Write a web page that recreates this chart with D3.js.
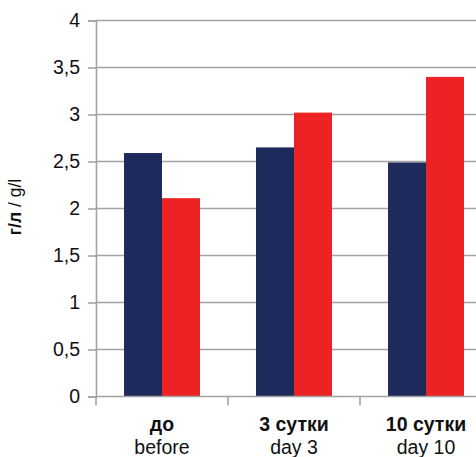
<!DOCTYPE html>
<html>
<head>
<meta charset="utf-8">
<script src="https://cdn.jsdelivr.net/npm/d3@7"></script>
<style>
  html, body { margin: 0; padding: 0; background: #fff; }
  svg { display: block; font-family: "Liberation Sans", Arial, sans-serif; }
</style>
</head>
<body>
<svg id="chart" width="476" height="457"></svg>
<script>
// Category labels (Russian, English)
const categoriesRu = ["до", "3 сутки", "10 сутки"];
const categoriesEn = ["before", "day 3", "day 10"];
// Two series, g/l
const seriesNavy = [2.59, 2.65, 2.49];
const seriesRed = [2.11, 3.02, 3.40];
const yTicks = [0, 0.5, 1, 1.5, 2, 2.5, 3, 3.5, 4];
const yTickLabels = ["0", "0,5", "1", "1,5", "2", "2,5", "3", "3,5", "4"];
const seriesColors = ["#1f2a5c", "#ed2224"];

const svg = d3.select("#chart");
const plotLeft = 96, plotTop = 20.5, plotBottom = 396.5;
const bandW = 132;
const plotRight = plotLeft + bandW * categoriesRu.length;
const fontFam = "'Liberation Sans', Arial, sans-serif";

const x = d3.scaleBand().domain(d3.range(categoriesRu.length)).range([plotLeft, plotRight]).paddingInner(0).paddingOuter(0);
const inner = d3.scaleBand().domain([0, 1]).range([28, 104]);
const y = d3.scaleLinear().domain([0, 4]).range([plotBottom, plotTop]);

// Gridlines
svg.append("g").selectAll("line").data(yTicks.filter(d => d > 0)).join("line")
  .attr("x1", plotLeft).attr("x2", 476)
  .attr("y1", d => y(d)).attr("y2", d => y(d))
  .attr("stroke", "#a3a3a3").attr("stroke-width", 1.6);

// Bars
const series = [seriesNavy, seriesRed];
series.forEach((vals, si) => {
  svg.append("g").selectAll("rect").data(vals).join("rect")
    .attr("x", (d, i) => x(i) + inner(si))
    .attr("width", inner.bandwidth())
    .attr("y", d => y(d))
    .attr("height", d => y(0) - y(d))
    .attr("fill", seriesColors[si]);
});

// Y axis
const yAxis = d3.axisLeft(y).tickValues(yTicks)
  .tickFormat((d, i) => yTickLabels[i]).tickSize(8).tickPadding(8);
const gy = svg.append("g").attr("transform", `translate(${plotLeft},0)`).call(yAxis)
  .attr("font-family", fontFam);
gy.select(".domain").attr("stroke", "#a3a3a3").attr("stroke-width", 1.6);
gy.selectAll(".tick line").attr("stroke", "#a3a3a3").attr("stroke-width", 1.6);
gy.selectAll(".tick text").attr("font-size", 19.5).attr("fill", "#111");

// X axis baseline with category separators
const gx = svg.append("g");
gx.append("line").attr("x1", plotLeft).attr("x2", 476).attr("y1", plotBottom).attr("y2", plotBottom)
  .attr("stroke", "#a3a3a3").attr("stroke-width", 1.6);
gx.selectAll("line.sep").data(d3.range(categoriesRu.length + 1)).join("line")
  .attr("class", "sep")
  .attr("x1", i => plotLeft + i * bandW).attr("x2", i => plotLeft + i * bandW)
  .attr("y1", plotBottom).attr("y2", plotBottom + 9)
  .attr("stroke", "#a3a3a3").attr("stroke-width", 1.6);

// Category labels
const lab = svg.append("g").attr("font-family", fontFam)
  .selectAll("g").data(categoriesRu).join("g")
  .attr("transform", (d, i) => `translate(${x(i) + bandW / 2},0)`);
lab.append("text").attr("y", 431).attr("text-anchor", "middle")
  .attr("font-size", 19.5).attr("font-weight", "bold").attr("fill", "#111").text(d => d);
lab.append("text").attr("y", 454).attr("text-anchor", "middle")
  .attr("font-size", 19.5).attr("fill", "#111").text((d, i) => categoriesEn[i]);

// Y axis title
const yt = svg.append("text")
  .attr("transform", "translate(21,207) rotate(-90)")
  .attr("font-family", fontFam)
  .attr("text-anchor", "middle").attr("font-size", 17.5).attr("fill", "#111");
yt.append("tspan").attr("font-weight", "bold").text("г/л");
yt.append("tspan").text(" / g/l");
</script>
</body>
</html>
